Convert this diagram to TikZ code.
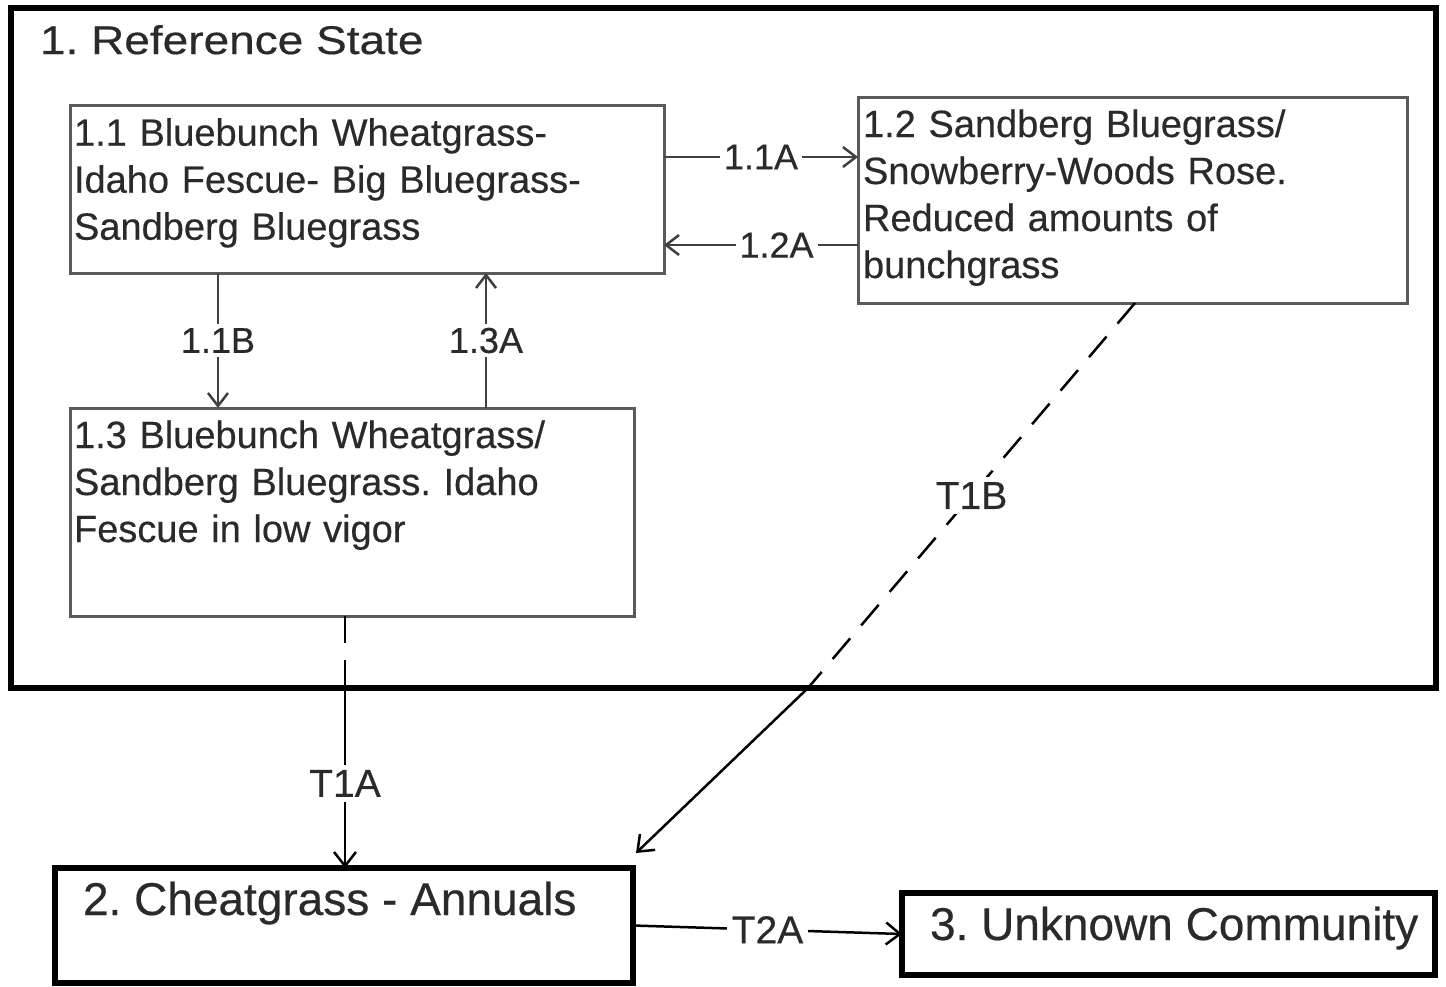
\documentclass[tikz,border=0pt]{standalone}
\usepackage{fontspec}
\setmainfont{Liberation Sans}[FakeBold=0.4]
\newfontfamily\titlefont{Liberation Sans}[FakeStretch=1.15,FakeBold=0.4]
\usetikzlibrary{arrows.meta}
\definecolor{boxgray}{HTML}{5A5A5A}
\definecolor{linegray}{HTML}{404040}
\definecolor{ink}{HTML}{2A2A2A}
\frenchspacing
\begin{document}
\begin{tikzpicture}[x=1pt,y=-1pt,
  every node/.style={inner sep=0pt, outer sep=0pt, text=ink},
  outerbox/.style={draw=black, line width=6pt, anchor=north west},
  subbox/.style={draw=boxgray, line width=3pt, anchor=north west},
  statebox/.style={draw=black, line width=5.5pt, anchor=north west},
  boxtext/.style={anchor=north west, align=left, text width=560pt,
    font=\fontsize{38}{47}\selectfont},
  conn/.style={draw=linegray, line width=2.5pt, -{Straight Barb[length=13pt,width=20pt]}},
  tline/.style={draw=black, line width=2.5pt},
  tdash/.style={tline, dash pattern=on 27pt off 17pt},
  tconn/.style={tline, -{Straight Barb[length=14pt,width=22pt]}},
  lbl/.style={fill=white, inner sep=4pt, font=\fontsize{36}{40}\selectfont},
  tlbl/.style={fill=white, inner sep=5pt, font=\fontsize{39}{44}\selectfont},
]
\useasboundingbox (0,0) rectangle (1446,986);
\fill[white] (0,0) rectangle (1446,986);

% outer reference state
\node[outerbox, minimum width=1425pt, minimum height=680pt] (ref) at (11,8) {};
\node[anchor=base west, font=\titlefont\fontsize{40}{44}\selectfont] (reftitle) at (40,54) {1. Reference State};

% community phases
\node[subbox, minimum width=594pt, minimum height=168pt] (b11) at (70,105) {};
\node[boxtext] (t11) at (74,112.8) {\strut 1.1 Bluebunch Wheatgrass-\\Idaho Fescue- Big Bluegrass-\\Sandberg Bluegrass};

\node[subbox, minimum width=549pt, minimum height=206pt] (b12) at (858,97) {};
\node[boxtext] (t12) at (863,104.1) {\strut 1.2 Sandberg Bluegrass/\\Snowberry-Woods Rose.\\Reduced amounts of\\bunchgrass};

\node[subbox, minimum width=564pt, minimum height=208pt] (b13) at (70,408) {};
\node[boxtext] (t13) at (74,415.1) {\strut 1.3 Bluebunch Wheatgrass/\\Sandberg Bluegrass. Idaho\\Fescue in low vigor};

% other states
\node[statebox, minimum width=578pt, minimum height=115pt] (b2) at (55,868) {};
\node[anchor=base west, font=\fontsize{46}{52}\selectfont] (t2) at (83,915) {2. Cheatgrass - Annuals};

\node[statebox, minimum width=533pt, minimum height=82pt] (b3) at (902,893) {};
\node[anchor=base west, font=\fontsize{46}{52}\selectfont] (t3) at (930,940) {3. Unknown Community};

% pathways within reference state
\draw[conn] ([yshift=-52pt]b11.north east) -- node[lbl]{1.1A} ([yshift=-60pt]b12.north west);
\draw[conn] ([yshift=-148pt]b12.north west) -- node[lbl,pos=0.42]{1.2A} ([yshift=-140pt]b11.north east);
\draw[conn] ([xshift=148pt]b11.south west) -- node[lbl]{1.1B} ([xshift=148pt]b13.north west);
\draw[conn] ([xshift=416pt]b13.north west) -- node[lbl]{1.3A} ([xshift=416pt]b11.south west);

% transitions
\coordinate (t1across) at (345,688);
\draw[tdash] ([xshift=275pt]b13.south west) -- (t1across);
\draw[tconn] (t1across) -- node[tlbl,pos=0.53]{T1A} ([xshift=290pt]b2.north west);

\coordinate (t1bcross) at (808,688);
\draw[tdash] ([xshift=277pt]b12.south west) -- node[tlbl]{T1B} (t1bcross);
\draw[tconn] (t1bcross) -- ([xshift=3pt,yshift=15pt]b2.north east);

\draw[tconn] (b2.east) -- node[tlbl]{T2A} (b3.west);
\end{tikzpicture}
\end{document}
